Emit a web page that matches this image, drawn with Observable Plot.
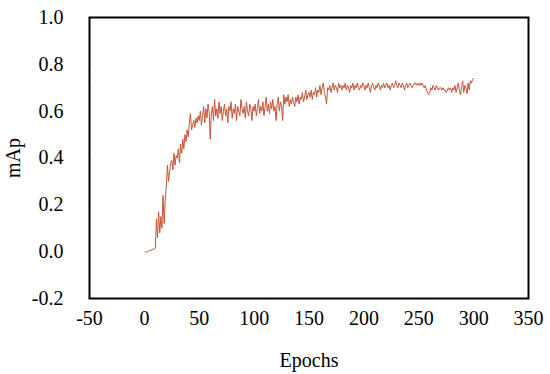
<!DOCTYPE html>
<html>
<head>
<meta charset="utf-8">
<script src="https://cdn.jsdelivr.net/npm/d3@7"></script>
<script src="https://cdn.jsdelivr.net/npm/@observablehq/plot@0.6"></script>
<style>
  html, body { margin: 0; padding: 0; background: #fff; }
</style>
</head>
<body>
<div id="chart"></div>
<script>
const mAp = [
  0.00,-0.002,0.0,0.003,0.005,0.006,0.008,0.012,0.01,0.015,
  0.14,0.06,0.17,0.08,0.15,0.10,0.24,0.12,0.22,0.28,
  0.37,0.30,0.34,0.38,0.39,0.35,0.42,0.37,0.41,0.40,
  0.44,0.38,0.46,0.42,0.48,0.44,0.50,0.47,0.52,0.49,
  0.55,0.59,0.52,0.54,0.56,0.53,0.57,0.55,0.58,0.56,
  0.60,0.54,0.58,0.62,0.55,0.61,0.57,0.63,0.60,0.48,
  0.59,0.62,0.56,0.65,0.58,0.61,0.57,0.64,0.59,0.62,
  0.56,0.60,0.63,0.58,0.61,0.55,0.62,0.60,0.64,0.57,
  0.61,0.59,0.63,0.56,0.62,0.60,0.58,0.65,0.61,0.59,
  0.62,0.57,0.64,0.60,0.58,0.63,0.61,0.56,0.62,0.60,
  0.63,0.58,0.61,0.65,0.59,0.62,0.60,0.64,0.58,0.62,
  0.66,0.60,0.63,0.59,0.64,0.61,0.65,0.60,0.62,0.56,
  0.63,0.66,0.60,0.64,0.62,0.56,0.67,0.63,0.66,0.64,
  0.67,0.62,0.65,0.63,0.66,0.64,0.62,0.66,0.64,0.67,
  0.63,0.66,0.65,0.68,0.64,0.66,0.69,0.65,0.67,0.68,
  0.66,0.69,0.65,0.68,0.67,0.70,0.66,0.69,0.68,0.71,
  0.67,0.70,0.72,0.68,0.66,0.63,0.70,0.69,0.71,0.68,
  0.70,0.72,0.69,0.71,0.70,0.68,0.72,0.70,0.71,0.69,
  0.71,0.70,0.72,0.69,0.71,0.70,0.68,0.71,0.70,0.72,
  0.69,0.71,0.70,0.72,0.70,0.69,0.71,0.70,0.72,0.71,
  0.69,0.71,0.70,0.72,0.70,0.68,0.71,0.72,0.70,0.69,
  0.71,0.70,0.72,0.71,0.69,0.71,0.70,0.72,0.70,0.71,
  0.72,0.70,0.71,0.69,0.71,0.72,0.70,0.71,0.73,0.71,
  0.70,0.72,0.71,0.70,0.72,0.71,0.69,0.71,0.72,0.70,
  0.71,0.72,0.71,0.70,0.71,0.72,0.72,0.71,0.72,0.71,
  0.72,0.71,0.72,0.71,0.70,0.71,0.69,0.68,0.67,0.68,
  0.70,0.69,0.71,0.70,0.69,0.71,0.70,0.69,0.70,0.70,
  0.69,0.70,0.69,0.69,0.68,0.69,0.70,0.69,0.70,0.68,
  0.70,0.69,0.71,0.68,0.70,0.72,0.69,0.67,0.70,0.73,
  0.68,0.71,0.70,0.675,0.72,0.69,0.73,0.72,0.735,0.74
];
const epochs = mAp.map((_, i) => i + 1);
const xTicks = [-50, 0, 50, 100, 150, 200, 250, 300, 350];
const yTicks = [-0.2, 0.0, 0.2, 0.4, 0.6, 0.8, 1.0];
const yMinor = [-0.1, 0.0, 0.1, 0.2, 0.3, 0.4, 0.5, 0.6, 0.7, 0.8, 0.9];

const data = epochs.map((e, i) => ({epoch: e, mAp: mAp[i]}));
const FONT = "Liberation Serif, DejaVu Serif, serif";

const chart = Plot.plot({
  width: 550,
  height: 374,
  marginLeft: 89,
  marginRight: 22,
  marginTop: 17,
  marginBottom: 76,
  style: {fontFamily: FONT, fontSize: "20px", background: "#fff", color: "#000"},
  x: {domain: [-50, 350]},
  y: {domain: [-0.2, 1.0]},
  marks: [
    Plot.ruleY(yMinor, {x1: -50, x2: -47, stroke: "#e2e2e2", strokeWidth: 1}),
    Plot.line(data, {x: "epoch", y: "mAp", stroke: "#c4553a", strokeWidth: 1}),
    Plot.frame({stroke: "#000", strokeWidth: 2}),
    Plot.axisX({ticks: xTicks, tickSize: 0, tickPadding: 12, tickFormat: d => String(d), label: "Epochs", labelAnchor: "center", labelArrow: "none", labelOffset: 68, fontSize: 20, fontFamily: FONT}),
    Plot.axisY({ticks: yTicks, tickSize: 0, tickPadding: 26, tickFormat: d => d.toFixed(1), label: "mAp", labelAnchor: "center", labelArrow: "none", labelOffset: 84, fontSize: 20, fontFamily: FONT})
  ]
});
chart.setAttribute("font-family", FONT);
chart.querySelectorAll("g, text").forEach(el => {
  el.setAttribute("font-family", FONT);
  el.setAttribute("font-size", "20");
  el.style.fontFamily = FONT;
  el.style.fontSize = "20px";
});
document.getElementById("chart").appendChild(chart);
</script>
</body>
</html>
